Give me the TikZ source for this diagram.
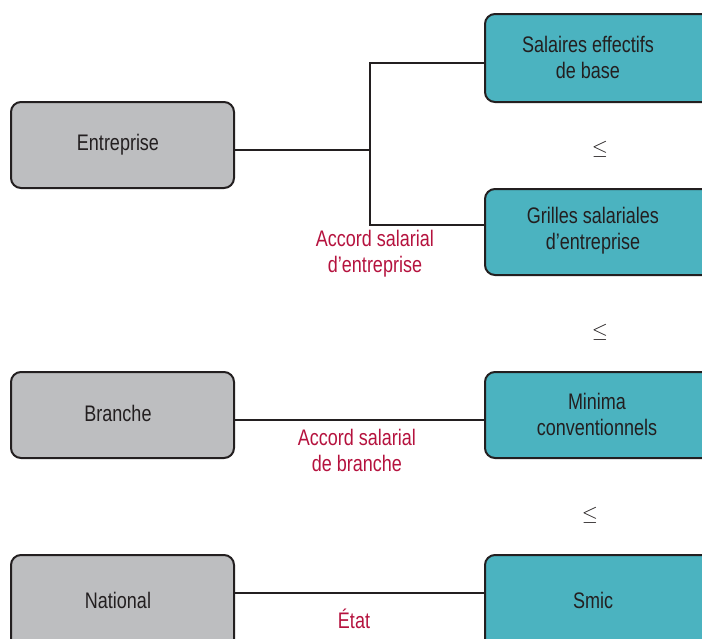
\documentclass[tikz,border=0pt]{standalone}
\usepackage{fontspec}
\setmainfont[FakeStretch=0.8]{Liberation Sans}
\begin{document}
\begin{tikzpicture}[x=1pt,y=-1pt,
  box/.style={draw=boxline, line width=2pt, rounded corners=10pt, inner sep=0pt},
  grey/.style={box, fill=boxgrey},
  teal/.style={box, fill=boxteal},
  txt/.style={font=\fontsize{22.5}{26}\selectfont, text=textdark, align=center},
  lbl/.style={font=\fontsize{22.5}{26}\selectfont, text=labelred, align=center},
  conn/.style={draw=boxline, line width=2pt}]
\definecolor{boxline}{HTML}{231F20}
\definecolor{boxgrey}{HTML}{BDBEC0}
\definecolor{boxteal}{HTML}{4BB3C0}
\definecolor{textdark}{HTML}{231F20}
\definecolor{labelred}{HTML}{B5123E}
\useasboundingbox (0,0) rectangle (702,638);
\clip (0,0) rectangle (702,638);
% boxes
\draw[grey] (11,102) rectangle (234,188);
\draw[grey] (11,372) rectangle (234,458);
\draw[grey] (11,555) rectangle (234,660);
\draw[teal] (485,14) rectangle (720,102);
\draw[teal] (485,189) rectangle (720,275);
\draw[teal] (485,372) rectangle (720,458);
\draw[teal] (485,555) rectangle (720,660);
% anchors
\coordinate (ent) at (234,150);
\coordinate (br) at (234,420);
\coordinate (nat) at (234,593);
\coordinate (sal) at (485,63);
\coordinate (gri) at (485,225);
\coordinate (min) at (485,420);
\coordinate (smic) at (485,593);
\coordinate (fork) at (370,150);
% connectors
\draw[conn] (ent) -- (fork);
\draw[conn] (sal) -| (fork) |- (gri);
\draw[conn] (br) -- (min);
\draw[conn] (nat) -- (smic);
% texts
\node[txt] (tEnt) at (118,145) {Entreprise};
\node[txt] (tBr) at (118,413) {Branche};
\node[txt] (tNat) at (118,600) {National};
\node[txt] (tSal) at (588,57) {Salaires effectifs\\de base};
\node[txt] (tGri) at (593,231) {Grilles salariales\\d’entreprise};
\node[txt] (tMin) at (597,414) {Minima\\conventionnels};
\node[txt] (tSmic) at (593,600) {Smic};
\node[txt] (le1) at (600,149) {$\leq$};
\node[txt] (le2) at (600,332) {$\leq$};
\node[txt] (le3) at (590,515) {$\leq$};
\node[lbl] (lEnt) at (375,254) {Accord salarial\\d’entreprise};
\node[lbl] (lBr) at (357,450) {Accord salarial\\de branche};
\node[lbl] (lNat) at (354,619) {État};
\end{tikzpicture}
\end{document}
